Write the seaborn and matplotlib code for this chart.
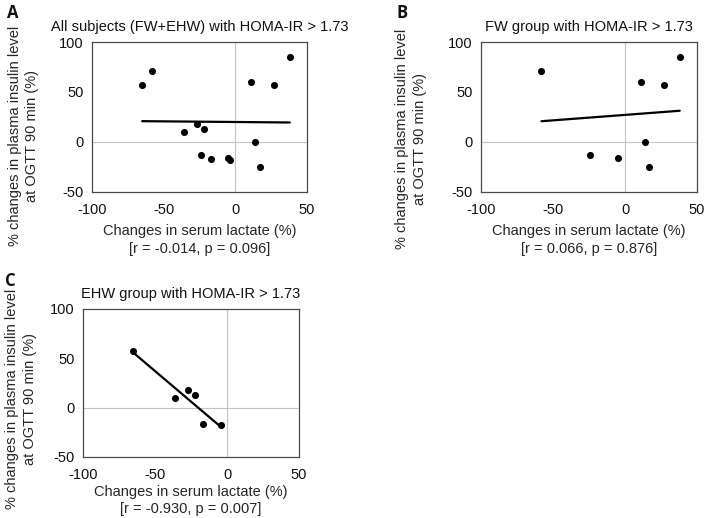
"""Scatter plots of insulin change vs lactate change with linear fits."""

import matplotlib
matplotlib.use("Agg")
import matplotlib.pyplot as plt
import numpy as np
import pandas as pd
import seaborn as sns

# FW group (HOMA-IR > 1.73)
fw_lactate = [-58, -24, -5, 11, 27, 38, 14, 17]
fw_insulin = [71, -13, -16, 60, 57, 85, 0, -25]

# EHW group (HOMA-IR > 1.73)
ehw_lactate = [-65, -36, -27, -22, -17, -4]
ehw_insulin = [57, 10, 18, 13, -17, -18]

titles = [
    "All subjects (FW+EHW) with HOMA-IR > 1.73",
    "FW group with HOMA-IR > 1.73",
    "EHW group with HOMA-IR > 1.73",
]
stats = [
    "[r = -0.014, p = 0.096]",
    "[r = 0.066, p = 0.876]",
    "[r = -0.930, p = 0.007]",
]
panel_letters = ["A", "B", "C"]

x_ticks = [-100, -50, 0, 50]
y_ticks = [-50, 0, 50, 100]

sns.set_theme(style="white")
plt.rcParams.update(
    {
        "font.family": ["Liberation Sans", "DejaVu Sans"],
        "font.size": 10,
        "axes.unicode_minus": False,
        "axes.edgecolor": "#4a4a4a",
        "axes.linewidth": 0.9,
        "text.color": "#111111",
        "xtick.color": "#111111",
        "ytick.color": "#111111",
    }
)

W, H = 708, 518
fig = plt.figure(figsize=(W / 100, H / 100), dpi=100)


def px_axes(left, top, right, bottom):
    return fig.add_axes([left / W, 1 - bottom / H, (right - left) / W, (bottom - top) / H])


panels = [
    (pd.DataFrame({"x": fw_lactate + ehw_lactate, "y": fw_insulin + ehw_insulin}),
     px_axes(92, 42, 307, 192), (-0.247, 0.375), -0.215),
    (pd.DataFrame({"x": fw_lactate, "y": fw_insulin}),
     px_axes(481, 42, 697, 192), (-0.252, 0.355), -0.215),
    (pd.DataFrame({"x": ehw_lactate, "y": ehw_insulin}),
     px_axes(83, 309, 299, 457), (-0.215, 0.395), -0.19),
]

letter_pos = [(7, 4), (397, 4), (5, 272)]

for i, (df, ax, ylab_xy, xlab_y) in enumerate(panels):
    ax.axhline(0, color="#c4c4c4", linewidth=0.8, zorder=0)
    ax.axvline(0, color="#c4c4c4", linewidth=0.8, zorder=0)
    sns.regplot(
        data=df,
        x="x",
        y="y",
        ci=None,
        truncate=True,
        color="black",
        scatter_kws={"s": 26, "linewidths": 0, "alpha": 1, "zorder": 3},
        line_kws={"linewidth": 1.6, "zorder": 2},
        ax=ax,
    )
    ax.set_xlim(-100, 50)
    ax.set_ylim(-50, 100)
    ax.set_xticks(x_ticks)
    ax.set_yticks(y_ticks)
    ax.tick_params(length=0, labelsize=10.5)
    ax.tick_params(axis="x", pad=8)
    ax.tick_params(axis="y", pad=6)
    ax.set_title(titles[i], fontsize=10.5, pad=8)
    ax.set_xlabel(f"Changes in serum lactate (%)\n{stats[i]}", fontsize=10.5, linespacing=1.3)
    ax.set_ylabel("% changes in plasma insulin level\nat OGTT 90 min (%)", fontsize=10.5, linespacing=1.3)
    ax.yaxis.set_label_coords(*ylab_xy)
    ax.xaxis.set_label_coords(0.5, xlab_y)
    for side in ["top", "right", "left", "bottom"]:
        ax.spines[side].set_visible(True)
    lx, ly = letter_pos[i]
    fig.text(lx / W, 1 - ly / H, panel_letters[i], fontsize=12, fontweight="bold",
             family=["Open Sans", "DejaVu Sans"], va="top", ha="left")

fig.savefig("out.png", dpi=100)
